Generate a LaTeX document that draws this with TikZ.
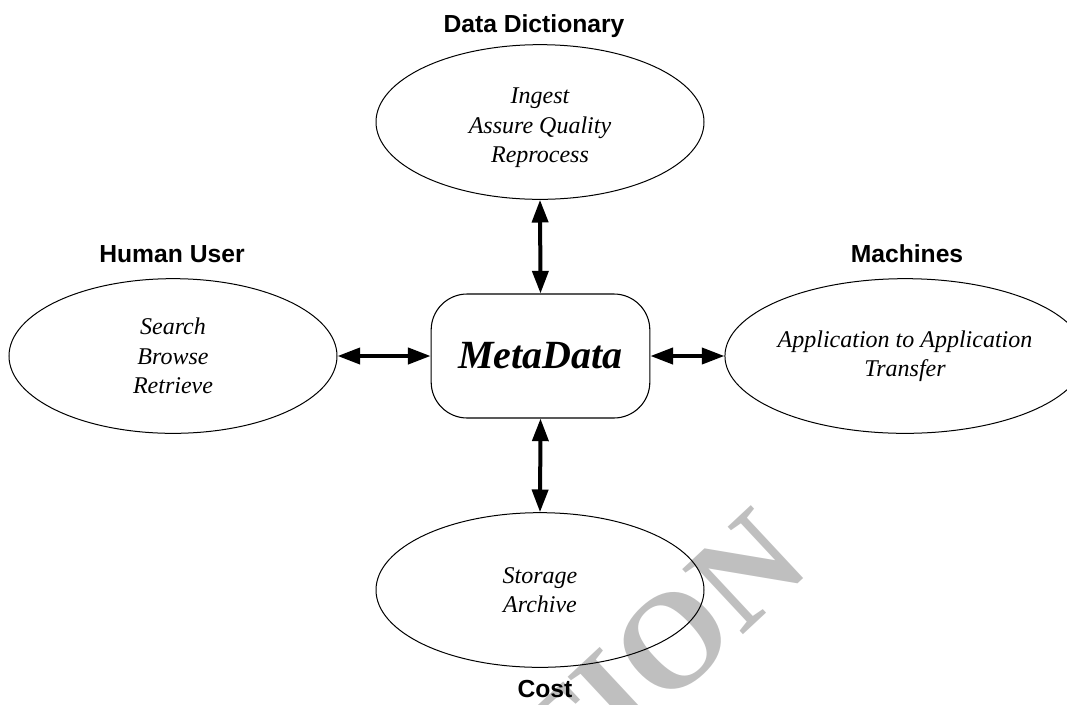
\documentclass[tikz,border=0pt]{standalone}
\usepackage{fontspec}
\setmainfont{Liberation Serif}
\setsansfont{Liberation Sans}
\usetikzlibrary{arrows.meta,shapes.geometric}
\begin{document}
\begin{tikzpicture}[x=0.75pt,y=-0.75pt,
  ovaltext/.style={inner sep=0pt,align=center,font=\fontsize{18}{22}\selectfont\itshape},
  oval/.style={draw,line width=0.75pt,ellipse,inner sep=0pt,minimum width=246pt,minimum height=116pt,ovaltext},
  title/.style={anchor=base,inner sep=0pt,font=\fontsize{18.5}{22}\selectfont\sffamily\bfseries},
  link/.style={line width=3pt,{Triangle[length=17pt,width=12pt]}-{Triangle[length=17pt,width=12pt]}},
  metabox/.style={draw,line width=0.8pt,rounded corners=27pt,minimum width=164pt,minimum height=93pt,inner sep=0pt,font=\fontsize{30}{36}\selectfont\bfseries\itshape},
  wmark/.style={text=black!25,inner sep=0pt,rotate=43,font=\fontsize{102}{110}\selectfont\bfseries}
]
\useasboundingbox (0,0) rectangle (1067,704);
\begin{scope}
\clip (0,0) rectangle (1067,704);
\node[wmark] (wm) at (656,656) {TION};
\end{scope}

\node[oval] (dict) at (540,122) {};
\node[ovaltext] (dicttext) at (540,128) {Ingest\\Assure Quality\\Reprocess};
\node[oval] (human) at (173,356) {Search\\Browse\\Retrieve};
\node[oval,minimum width=243pt] (mach) at (905,356) {Application to Application\\Transfer};
\node[oval] (store) at (540,590) {Storage\\Archive};
\node[metabox] (meta) at (540.5,356) {MetaData};

\node[title] (tdict) at (534,32) {Data Dictionary};
\node[title] (thuman) at (172,262) {Human User};
\node[title] (tmach) at (907,262) {Machines};
\node[title] (tcost) at (545,697) {Cost};

\draw[link] (dict.south) -- (meta.north);
\draw[link] (human.east) -- (meta.west);
\draw[link] (meta.east) -- (mach.west);
\draw[link] (meta.south) -- (store.north);
\end{tikzpicture}
\end{document}
